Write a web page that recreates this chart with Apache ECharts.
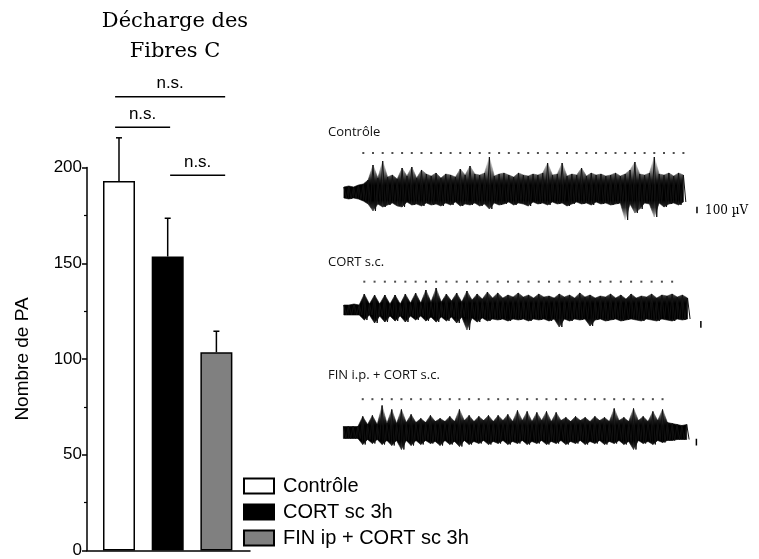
<!DOCTYPE html>
<html><head><meta charset="utf-8">
<script src="https://cdn.jsdelivr.net/npm/echarts@6/dist/echarts.min.js"></script>
<style>html,body{margin:0;padding:0;background:#fff}#c{width:759px;height:559px}</style>
</head><body><div id="c"></div><script>
// ---------- DATA ----------
const titleLines = ['Décharge des', 'Fibres C'];
const yAxisName = 'Nombre de PA';
const groups = ['Contrôle', 'CORT sc 3h', 'FIN ip + CORT sc 3h'];
const groupPos = [1, 2, 3];
const means = [193, 153.5, 103.5];
const sems = [22.5, 20, 11];
const yTicks = [0, 50, 100, 150, 200];
// significance brackets: x from, x to, height, label
const bracketFrom = [0.92, 0.92, 2.05];
const bracketTo = [3.18, 2.05, 3.18];
const bracketY = [237, 221, 196];
const bracketLabel = ['n.s.', 'n.s.', 'n.s.'];

// recordings (µV), sampled every 0.5 stimulus period starting at t = -2
const traceNames = ['Contrôle', 'CORT s.c.', 'FIN i.p. + CORT s.c.'];
const sampleStart = -2;
const sampleStep = 0.5;
const scaleBarUV = 100;
const scaleLabel = '100 µV';

const ctrlHi = [75,90,75,105,120,180,405,210,465,225,
  255,195,360,240,375,210,330,270,240,285,
  210,270,255,225,345,255,390,270,255,285,
  525,240,270,285,255,225,285,255,240,270,
  255,285,435,255,270,435,240,270,255,360,
  240,285,255,270,240,255,285,240,270,330,
  450,270,255,285,525,270,255,285,240,285,
  255];
const ctrlLo = [-90,-105,-90,-105,-135,-180,-285,-180,-225,-195,
  -165,-210,-225,-150,-195,-180,-210,-165,-195,-180,
  -210,-165,-195,-150,-210,-180,-195,-165,-210,-180,
  -255,-165,-195,-180,-150,-195,-165,-180,-210,-150,
  -180,-165,-195,-150,-180,-165,-210,-180,-150,-180,
  -165,-195,-150,-180,-165,-195,-180,-165,-420,-180,
  -315,-255,-165,-180,-375,-165,-225,-180,-165,-195,
  -150];
const ctrlStim = [0,1,2,3,4,5,6,7,8,9,10,11,12,13,14,15,16,17,18,19,20,21,22,23,24,25,26,27,28,29,30,31,32,33];

const cortHi = [75,75,90,75,240,90,225,90,225,90,
  225,90,240,105,255,105,300,120,330,120,
  240,135,255,120,285,150,240,165,270,180,
  255,180,225,195,255,195,225,180,240,195,
  210,180,240,195,225,180,255,195,225,180,
  210,195,240,180,225,165,240,180,210,195,
  240,180,225,210,240,195,225,180];
const cortLo = [-75,-75,-75,-75,-150,-75,-195,-90,-180,-90,
  -165,-90,-180,-90,-150,-90,-165,-105,-180,-105,
  -165,-105,-195,-105,-300,-120,-180,-120,-165,-135,
  -150,-135,-165,-135,-150,-135,-165,-135,-150,-135,
  -165,-135,-255,-135,-165,-135,-150,-135,-240,-150,
  -135,-165,-150,-135,-165,-150,-135,-150,-165,-135,
  -150,-165,-135,-150,-165,-135,-150,-135];
const cortStim = [0,1,2,3,4,5,6,7,8,9,10,11,12,13,14,15,16,17,18,19,20,21,22,23,24,25,26,27,28,29,30];

const finHi = [90,90,90,90,240,120,255,120,405,135,
  345,135,345,150,270,150,210,150,255,165,
  210,165,240,165,345,180,255,165,240,180,
  255,165,255,180,270,165,330,180,315,165,
  300,180,315,165,300,180,225,165,240,180,
  225,165,240,180,225,165,360,180,225,165,
  360,180,240,165,315,180,345,150,135,120,
  105,120];
const finLo = [-90,-90,-90,-90,-180,-105,-165,-105,-180,-120,
  -195,-120,-255,-120,-195,-120,-180,-120,-165,-135,
  -195,-120,-180,-135,-210,-120,-180,-135,-165,-120,
  -180,-135,-165,-120,-180,-135,-165,-120,-180,-135,
  -165,-120,-180,-135,-165,-120,-180,-135,-165,-120,
  -180,-135,-165,-120,-180,-135,-165,-120,-180,-135,
  -255,-120,-165,-135,-180,-120,-150,-120,-120,-105,
  -105,-105];
const finStim = [0,1,2,3,4,5,6,7,8,9,10,11,12,13,14,15,16,17,18,19,20,21,22,23,24,25,26,27,28,29,30,31];

// ---------- LAYOUT / STYLE ----------
const barColors = ['#ffffff', '#000000', '#808080'];
const traces = [
  {name: traceNames[0], hi: ctrlHi, lo: ctrlLo, stim: ctrlStim, left: 343.9, width: 368.6, top: 148, labelY: 132, dotUV: 585, barT: 34.4, barTop: -220},
  {name: traceNames[1], hi: cortHi, lo: cortLo, stim: cortStim, left: 343.8, width: 389.9, top: 266, labelY: 262, dotUV: 425, barT: 32.8, barTop: -165},
  {name: traceNames[2], hi: finHi, lo: finLo, stim: finStim, left: 343.4, width: 367.5, top: 388.5, labelY: 375, dotUV: 500, barT: 34.5, barTop: -95}
];

function zigzag(hi, lo) {
  const out = [];
  const n = Math.min(hi.length, lo.length);
  for (let i = 0; i < n; i++) {
    const t = sampleStart + sampleStep * i;
    out.push([t, hi[i]]);
    out.push([t + sampleStep / 2, lo[i]]);
  }
  return out;
}
// envelope segments: [t_i, hi_i, lo_i, t_i+1, hi_i+1, lo_i+1]
function segments(hi, lo) {
  const out = [];
  const n = Math.min(hi.length, lo.length);
  for (let i = 0; i < n - 1; i++) {
    const t = sampleStart + sampleStep * i;
    out.push([t, hi[i], lo[i], t + sampleStep, hi[i + 1], lo[i + 1]]);
  }
  return out;
}

const grid = [{left: 87, top: 167.5, width: 163, height: 385.5}];
const xAxis = [{type: 'value', gridIndex: 0, min: 0.343, max: 3.69,
  axisLine: {show: true, onZero: false, lineStyle: {color: '#000', width: 1.5}},
  axisTick: {show: false}, axisLabel: {show: false}, splitLine: {show: false}}];
const yAxis = [{type: 'value', gridIndex: 0, min: 0, max: 200, interval: 50,
  name: yAxisName, nameLocation: 'middle', nameGap: 55, nameRotate: 90,
  nameTextStyle: {fontFamily: 'Liberation Sans', fontSize: 19, color: '#000'},
  axisLine: {show: true, lineStyle: {color: '#000', width: 1.5}},
  axisTick: {show: true, length: 5, lineStyle: {color: '#000', width: 1.5}},
  minorTick: {show: true, splitNumber: 2, length: 3, lineStyle: {color: '#000', width: 1.2}},
  axisLabel: {fontFamily: 'Liberation Sans', fontSize: 17, color: '#000', margin: 5,
    formatter: v => yTicks.includes(v) ? String(v) : ''},
  splitLine: {show: false}}];

const series = [];
groups.forEach((g, i) => {
  series.push({
    type: 'bar', name: g, xAxisIndex: 0, yAxisIndex: 0,
    data: [[groupPos[i], means[i]]],
    barWidth: 32, barGap: '-100%',
    itemStyle: {color: barColors[i], borderColor: '#000', borderWidth: 1.5},
    emphasis: {disabled: true}, z: 3
  });
});
series.push({
  type: 'custom', xAxisIndex: 0, yAxisIndex: 0, clip: false, silent: true, z: 2,
  data: groupPos.map((p, i) => [p, means[i], means[i] + sems[i]]),
  encode: {x: 0, y: [1, 2]},
  renderItem(params, api) {
    const a = api.coord([api.value(0), api.value(1)]);
    const b = api.coord([api.value(0), api.value(2)]);
    return {type: 'group', children: [
      {type: 'line', shape: {x1: a[0], y1: a[1], x2: b[0], y2: b[1]}, style: {stroke: '#000', lineWidth: 1.5}},
      {type: 'line', shape: {x1: b[0] - 3, y1: b[1], x2: b[0] + 3, y2: b[1]}, style: {stroke: '#000', lineWidth: 1.5}}
    ]};
  }
});
series.push({
  type: 'custom', xAxisIndex: 0, yAxisIndex: 0, clip: false, silent: true,
  data: bracketY.map((y, i) => [bracketFrom[i], bracketTo[i], y, i]),
  encode: {x: [0, 1], y: 2},
  renderItem(params, api) {
    const a = api.coord([api.value(0), api.value(2)]);
    const b = api.coord([api.value(1), api.value(2)]);
    return {type: 'group', children: [
      {type: 'line', shape: {x1: a[0], y1: a[1], x2: b[0], y2: b[1]}, style: {stroke: '#000', lineWidth: 1.5}},
      {type: 'text', x: (a[0] + b[0]) / 2, y: a[1] - 13,
        style: {text: bracketLabel[api.value(3)], font: '17px "Liberation Sans"', fill: '#000', align: 'center', verticalAlign: 'middle'}}
    ]};
  }
});

const graphic = [
  {type: 'text', x: 175, y: 22, style: {text: titleLines[0], font: '21px "DejaVu Serif"', fill: '#000', align: 'center', verticalAlign: 'middle'}},
  {type: 'text', x: 175, y: 52, style: {text: titleLines[1], font: '21px "DejaVu Serif"', fill: '#000', align: 'center', verticalAlign: 'middle'}},
  {type: 'text', x: 705, y: 211, style: {text: scaleLabel, font: '12px "DejaVu Serif"', fill: '#000', align: 'left', verticalAlign: 'middle'}}
];

function envRender(params, api) {
  const a1 = api.coord([api.value(0), api.value(1)]);
  const b1 = api.coord([api.value(3), api.value(4)]);
  const b2 = api.coord([api.value(3), api.value(5)]);
  const a2 = api.coord([api.value(0), api.value(2)]);
  const base = api.coord([api.value(0), 0])[1];
  const fill = new echarts.graphic.LinearGradient(0, base - 34, 0, base + 28, [
    {offset: 0, color: '#e6e6e6'}, {offset: 0.2, color: '#8a8a8a'}, {offset: 0.36, color: '#1a1a1a'},
    {offset: 0.44, color: '#000'}, {offset: 0.68, color: '#000'}, {offset: 0.8, color: '#2a2a2a'},
    {offset: 0.92, color: '#9a9a9a'}, {offset: 1, color: '#e6e6e6'}], true);
  return {type: 'polygon', shape: {points: [a1, b1, b2, a2]},
    style: {fill: fill, stroke: fill, lineWidth: 0.6}};
}

traces.forEach((tr, k) => {
  const gi = k + 1;
  grid.push({left: tr.left, top: tr.top, width: tr.width, height: 88});
  xAxis.push({type: 'value', gridIndex: gi, min: -2, max: 36, show: false});
  yAxis.push({type: 'value', gridIndex: gi, min: -660, max: 660, show: false});
  series.push({type: 'custom', xAxisIndex: gi, yAxisIndex: gi, data: segments(tr.hi, tr.lo),
    encode: {x: [0, 3], y: [1, 2]}, renderItem: envRender, clip: false, silent: true});
  series.push({type: 'line', xAxisIndex: gi, yAxisIndex: gi, data: zigzag(tr.hi, tr.lo),
    showSymbol: false, symbol: 'none', silent: true, clip: false,
    lineStyle: {color: '#111', width: 1}});
  series.push({type: 'scatter', xAxisIndex: gi, yAxisIndex: gi, data: tr.stim.map(t => [t, tr.dotUV]),
    symbol: 'rect', symbolSize: [2, 2], itemStyle: {color: '#222'}, silent: true});
  series.push({type: 'line', xAxisIndex: gi, yAxisIndex: gi,
    data: [[tr.barT, tr.barTop], [tr.barT, tr.barTop - scaleBarUV]],
    showSymbol: false, symbol: 'none', silent: true, clip: false,
    lineStyle: {color: '#000', width: 1.5}});
  graphic.push({type: 'text', x: 328, y: tr.labelY,
    style: {text: tr.name, font: '13px "Open Sans"', fill: '#111', align: 'left', verticalAlign: 'middle'}});
});

const chart = echarts.init(document.getElementById('c'), null, {renderer: 'canvas'});
chart.setOption({
  animation: false,
  backgroundColor: '#fff',
  grid, xAxis, yAxis, series, graphic,
  legend: {
    data: groups, orient: 'vertical', left: 243, top: 476, padding: 0,
    itemWidth: 30, itemHeight: 15, itemGap: 6, icon: 'rect',
    textStyle: {fontFamily: 'Liberation Sans', fontSize: 20, color: '#000', lineHeight: 19, padding: [0, 0, 0, 4]},
    selectedMode: false
  }
});
</script></body></html>
